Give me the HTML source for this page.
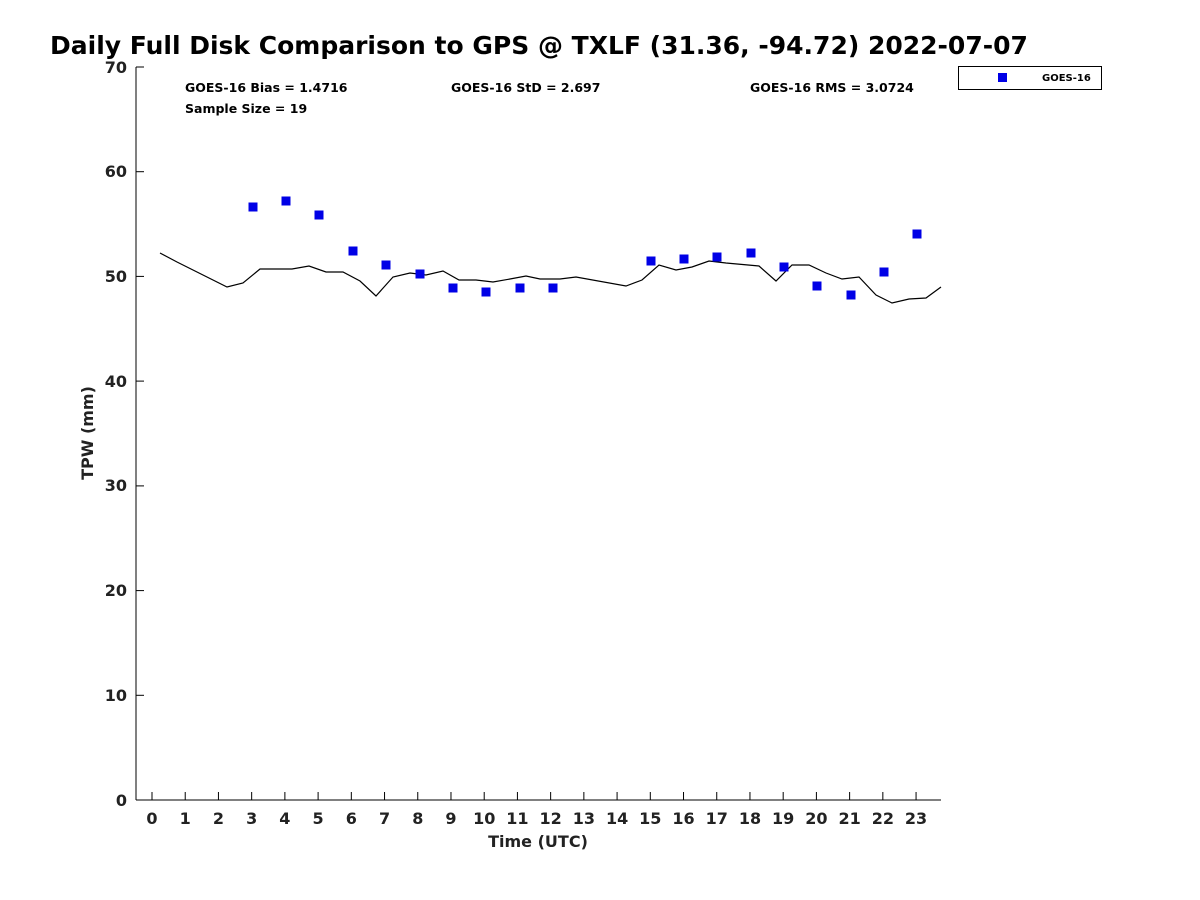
<!DOCTYPE html>
<html><head><style>body{margin:0;background:#fff}svg{display:block}text{font-family:"DejaVu Sans","Liberation Sans",sans-serif}</style></head><body>
<svg width="1200" height="900" xmlns="http://www.w3.org/2000/svg">
<text x="50" y="54" font-size="25" font-weight="bold" fill="#000">Daily Full Disk Comparison to GPS @ TXLF (31.36, -94.72) 2022-07-07</text>
<g stroke="#000" stroke-width="1" fill="none">
<line x1="136" y1="67" x2="136" y2="800"/><line x1="136" y1="800" x2="941" y2="800"/>
<line x1="136" y1="67" x2="144" y2="67"/><line x1="136" y1="171.7" x2="144" y2="171.7"/><line x1="136" y1="276.4" x2="144" y2="276.4"/><line x1="136" y1="381.1" x2="144" y2="381.1"/><line x1="136" y1="485.9" x2="144" y2="485.9"/><line x1="136" y1="590.6" x2="144" y2="590.6"/><line x1="136" y1="695.3" x2="144" y2="695.3"/>
</g>
<g stroke="#000" id="xt"></g>
<g font-size="16" font-weight="bold" fill="#222" text-anchor="end">
<text x="127" y="73">70</text><text x="127" y="177">60</text><text x="127" y="282">50</text><text x="127" y="387">40</text><text x="127" y="491">30</text><text x="127" y="596">20</text><text x="127" y="701">10</text><text x="127" y="806">0</text>
</g>
<g font-size="16" font-weight="bold" fill="#222" text-anchor="middle" id="xl"></g>
<text x="538" y="847" font-size="16" font-weight="bold" fill="#222" text-anchor="middle">Time (UTC)</text>
<text transform="translate(93,433) rotate(-90)" font-size="16" font-weight="bold" fill="#222" text-anchor="middle">TPW (mm)</text>
<g font-size="12.5" font-weight="bold" fill="#000">
<text x="185" y="92">GOES-16 Bias = 1.4716</text><text x="185" y="113">Sample Size = 19</text>
<text x="451" y="92">GOES-16 StD = 2.697</text><text x="750" y="92">GOES-16 RMS = 3.0724</text>
</g>
<rect x="958.5" y="66.5" width="143" height="23" fill="#fff" stroke="#000"/>
<rect x="998" y="73" width="9" height="9" fill="#0000e6"/>
<text x="1042" y="81" font-size="10" font-weight="bold">GOES-16</text>
<polyline fill="none" stroke="#000" stroke-width="1.2" points="160,253 177,262 227,287 243,283 260,269 292,269 309,266 326,272 343,272 360,281 376,296 393,277 410,273 426,275 443,271 459,280 476,280 493,282 510,279 526,276 540,279 560,279 576,277 626,286 642,280 659,265 676,270 692,267 709,261 726,263 759,266 776,281 792,265 809,265 826,273 842,279 859,277 876,295 892,303 909,299 926,298 941,287"/>
<g fill="#0000e6" id="pts"></g>
<script>
var ns="http://www.w3.org/2000/svg";
var xt=document.getElementById('xt'),xl=document.getElementById('xl');
for(var i=0;i<24;i++){var x=152+i*33.22;var l=document.createElementNS(ns,'line');l.setAttribute('x1',x);l.setAttribute('x2',x);l.setAttribute('y1',792);l.setAttribute('y2',800);xt.appendChild(l);
var t=document.createElementNS(ns,'text');t.setAttribute('x',x);t.setAttribute('y',824);t.textContent=i;xl.appendChild(t);}
var p=[[253,207],[286,201],[319,215],[353,251],[386,265],[420,274],[453,288],[486,292],[520,288],[553,288],[651,261],[684,259],[717,257],[751,253],[784,267],[817,286],[851,295],[884,272],[917,234]];
var g=document.getElementById('pts');p.forEach(function(q){var r=document.createElementNS(ns,'rect');r.setAttribute('x',q[0]-4.5);r.setAttribute('y',q[1]-4.5);r.setAttribute('width',9);r.setAttribute('height',9);g.appendChild(r);});
</script>
</svg>
</body></html>
